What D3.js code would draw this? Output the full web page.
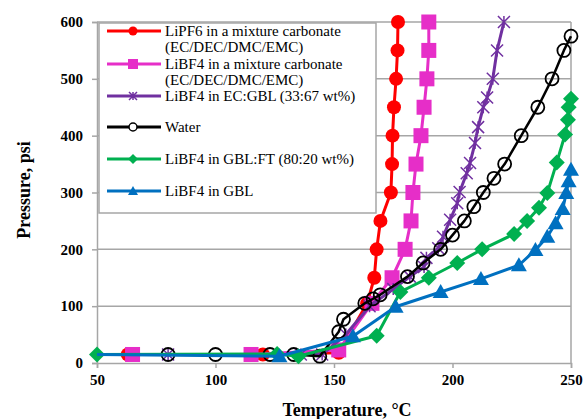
<!DOCTYPE html>
<html>
<head>
<meta charset="utf-8">
<script src="https://cdn.jsdelivr.net/npm/d3@7"></script>
<style>
  body { margin: 0; background: #fff; }
  svg { display: block; }
</style>
</head>
<body>
<div id="chart"></div>
<script>
// series data: [temperature °C, pressure psi]
const lipf6Carb = [[63,15],[120,15],[152,18],[164,105],[167,150],[168,200],[169.6,250],[174,300],[174.5,350],[174.7,400],[175.3,450],[176.2,500],[176.8,550],[177,600]];
const libf4Carb = [[65,15],[115,15],[152,23],[166,105],[174.5,150],[180,200],[182.5,250],[183.3,300],[184.6,350],[186.7,400],[188,450],[189.2,500],[190,550],[190,600]];
const libf4EcGbl = [[80,15],[136,15],[145,15],[155,50],[165,100],[175,130],[182,152],[188,169],[189,185],[194,202],[196,222],[199,252],[202,281],[203,301],[206,334],[207.4,352],[209.5,387],[210.8,415],[213,450],[214.6,467],[217,500],[218.8,550],[221.7,600]];
const water = [[80,15],[100,15],[123,15],[133,15],[144,12],[152,55],[154,77],[163,105],[166.5,113],[169.5,120],[181,152],[187.6,176],[195,200],[200,225],[205,250],[209,275],[213,300],[217.5,325],[222,350],[229,400],[236,450],[242,500],[247,550],[250,575]];
const libf4GblFt = [[50,15],[126,16],[135,12],[168,48],[178,125],[190,150],[202,176],[212.5,200],[226,227],[231.5,250],[236.5,273],[240,299],[244,353],[247.5,402],[248.7,428],[249,450],[250,465]];
const libf4Gbl = [[50,15],[127,12],[158,47],[176,99],[195,125],[212,148],[228,172],[235,199],[240,222],[243.5,246],[246.5,271],[248,299],[249,320],[250,340]];

const seriesNames = ["LiPF6 in a mixture carbonate", "LiBF4 in a mixture carbonate", "LiBF4 in EC:GBL (33:67 wt%)", "Water", "LiBF4 in GBL:FT (80:20 wt%)", "LiBF4 in GBL"];
const xTicks = [50, 100, 150, 200, 250];
const yTicks = [0, 100, 200, 300, 400, 500, 600];

const series = [
  { name: seriesNames[0], data: lipf6Carb, color: "#ff0000", marker: "circle", sub: "(EC/DEC/DMC/EMC)" },
  { name: seriesNames[1], data: libf4Carb, color: "#e62ec8", marker: "square", sub: "(EC/DEC/DMC/EMC)" },
  { name: seriesNames[2], data: libf4EcGbl, color: "#7030a0", marker: "star" },
  { name: seriesNames[3], data: water, color: "#000000", marker: "ring" },
  { name: seriesNames[4], data: libf4GblFt, color: "#00b050", marker: "diamond" },
  { name: seriesNames[5], data: libf4Gbl, color: "#0070c0", marker: "triangle", skipFirst: true }
];

const W = 583, H = 419;
const serif = "Liberation Serif, Times New Roman, serif";
const svg = d3.select("#chart").append("svg").attr("width", W).attr("height", H);

const x = d3.scaleLinear().domain([50, 250]).range([97, 571]);
const y = d3.scaleLinear().domain([0, 600]).range([363, 22]);
const grid = "#a6a6a6";

// gridlines
svg.append("g").selectAll("line").data(yTicks.filter(d => d > 0)).join("line")
  .attr("x1", x(50)).attr("x2", x(250))
  .attr("y1", d => y(d)).attr("y2", d => y(d))
  .attr("stroke", grid).attr("stroke-width", 1.5);

// right border
svg.append("line").attr("x1", x(250)).attr("x2", x(250)).attr("y1", y(600)).attr("y2", y(0))
  .attr("stroke", grid).attr("stroke-width", 1.5);

// axes
const xAxis = svg.append("g").attr("transform", `translate(0,${y(0)})`)
  .call(d3.axisBottom(x).tickValues(xTicks).tickSize(5).tickPadding(6));
const yAxis = svg.append("g").attr("transform", `translate(${x(50)},0)`)
  .call(d3.axisLeft(y).tickValues(yTicks).tickSize(5).tickPadding(9));
[xAxis, yAxis].forEach(a => {
  a.select(".domain").attr("stroke", grid).attr("stroke-width", 1.5);
  a.selectAll(".tick line").attr("stroke", grid).attr("stroke-width", 1.5);
  a.selectAll("text").attr("font-family", serif)
    .attr("font-size", 15).attr("font-weight", "bold").attr("fill", "#000");
});

svg.append("text").attr("x", 347).attr("y", 416).attr("text-anchor", "middle")
  .attr("font-family", serif).attr("font-size", 18).attr("font-weight", "bold")
  .text("Temperature, °C");
svg.append("text").attr("transform", "translate(30,190) rotate(-90)").attr("text-anchor", "middle")
  .attr("font-family", serif).attr("font-size", 18).attr("font-weight", "bold")
  .text("Pressure, psi");

// marker drawing
function drawMarker(g, type, color) {
  if (type === "circle") {
    g.append("circle").attr("r", 7).attr("fill", color);
  } else if (type === "square") {
    g.append("rect").attr("x", -7.5).attr("y", -7.5).attr("width", 15).attr("height", 15).attr("fill", color);
  } else if (type === "star") {
    g.append("path").attr("d", "M-6,-6L6,6M-6,6L6,-6M0,-6L0,6")
      .attr("stroke", color).attr("stroke-width", 1.5).attr("fill", "none");
  } else if (type === "ring") {
    g.append("circle").attr("r", 6.5).attr("fill", "none").attr("stroke", color).attr("stroke-width", 1.8);
  } else if (type === "diamond") {
    g.append("path").attr("d", "M0,-8L8,0L0,8L-8,0Z").attr("fill", color);
  } else if (type === "triangle") {
    g.append("path").attr("d", "M0,-8L8,6L-8,6Z").attr("fill", color);
  }
}

const line = d3.line().x(d => x(d[0])).y(d => y(d[1]));

series.forEach(s => {
  const g = svg.append("g");
  g.append("path").datum(s.data).attr("d", line)
    .attr("fill", "none").attr("stroke", s.color)
    .attr("stroke-width", s.marker === "ring" ? 2.5 : 3).attr("stroke-linejoin", "round");
  g.selectAll("g.m").data(s.skipFirst ? s.data.slice(1) : s.data).join("g").attr("class", "m")
    .attr("transform", d => `translate(${x(d[0])},${y(d[1])})`)
    .each(function () { drawMarker(d3.select(this), s.marker, s.color); });
});

// legend
const leg = svg.append("g");
leg.append("rect").attr("x", 99).attr("y", 23).attr("width", 277).attr("height", 190)
  .attr("fill", "#fff").attr("stroke", grid).attr("stroke-width", 1.5);
const rowY = [31, 64, 96, 127, 159, 191];
series.forEach((s, i) => {
  const gy = rowY[i];
  leg.append("line").attr("x1", 107).attr("x2", 161).attr("y1", gy).attr("y2", gy)
    .attr("stroke", s.color).attr("stroke-width", 3);
  const m = leg.append("g").attr("transform", `translate(133,${gy})`);
  if (s.marker === "ring") m.append("circle").attr("r", 4).attr("fill", "#fff").attr("stroke", "#000").attr("stroke-width", 1.5);
  else if (s.marker === "star") m.append("path").attr("d", "M-4,-4L4,4M-4,4L4,-4M0,-4L0,4").attr("stroke", s.color).attr("stroke-width", 1.5);
  else if (s.marker === "circle") m.append("circle").attr("r", 4.5).attr("fill", s.color);
  else if (s.marker === "square") m.append("rect").attr("x", -5).attr("y", -5).attr("width", 10).attr("height", 10).attr("fill", s.color);
  else if (s.marker === "diamond") m.append("path").attr("d", "M0,-5L5,0L0,5L-5,0Z").attr("fill", s.color);
  else m.append("path").attr("d", "M0,-5L5,4L-5,4Z").attr("fill", s.color);
  leg.append("text").attr("x", 165).attr("y", gy + 5)
    .attr("font-family", serif).attr("font-size", 15).attr("fill", "#000")
    .text(s.name);
  if (s.sub) {
    leg.append("text").attr("x", 165).attr("y", gy + 21)
      .attr("font-family", serif).attr("font-size", 15).attr("fill", "#000")
      .text(s.sub);
  }
});
</script>
</body>
</html>
